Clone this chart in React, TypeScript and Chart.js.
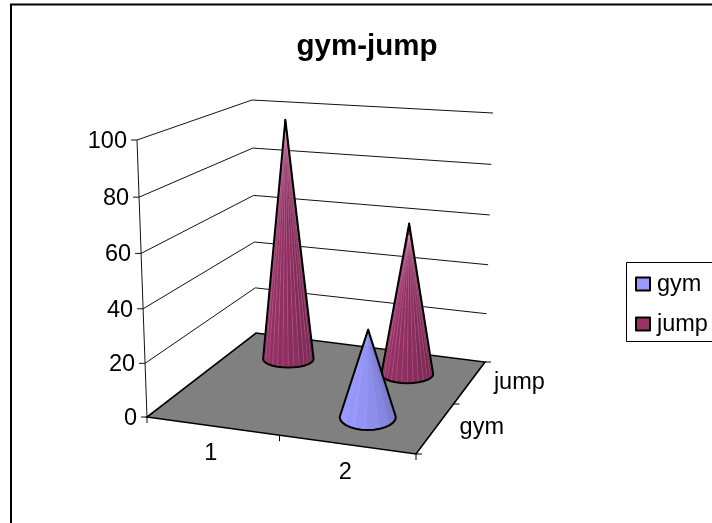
import React, { useEffect, useRef } from "react";
import { Chart, registerables } from "chart.js";

Chart.register(...registerables);

const chartTitle = "gym-jump";
const categories = ["1", "2"];
const gymValues = [0, 33];
const jumpValues = [97, 60];
const axisTicks = { min: 0, max: 100, step: 20 };

const WIDTH = 712;
const HEIGHT = 523;
const FONT = '"Liberation Sans", Arial, sans-serif';

type Pt = { x: number; y: number };

// Corners of the projected box: front-left, front-right, back-right, back-left.
const floorQuad: Pt[] = [
  { x: 147, y: 417 },
  { x: 416, y: 454 },
  { x: 485, y: 362 },
  { x: 256, y: 333 },
];
const ceilingQuad: Pt[] = [
  { x: 137, y: 140 },
  { x: 421, y: 158 },
  { x: 493, y: 113 },
  { x: 252, y: 100 },
];

// Maps the unit square onto a quadrilateral.
function homography(q: Pt[]) {
  const [p0, p1, p2, p3] = q;
  const dx1 = p1.x - p2.x, dx2 = p3.x - p2.x, sx = p0.x - p1.x + p2.x - p3.x;
  const dy1 = p1.y - p2.y, dy2 = p3.y - p2.y, sy = p0.y - p1.y + p2.y - p3.y;
  const den = dx1 * dy2 - dx2 * dy1;
  const g = (sx * dy2 - dx2 * sy) / den;
  const h = (dx1 * sy - sx * dy1) / den;
  const a = p1.x - p0.x + g * p1.x, b = p3.x - p0.x + h * p3.x;
  const d = p1.y - p0.y + g * p1.y, e = p3.y - p0.y + h * p3.y;
  return (u: number, v: number): Pt => {
    const w = g * u + h * v + 1;
    return { x: (a * u + b * v + p0.x) / w, y: (d * u + e * v + p0.y) / w };
  };
}
const onFloor = homography(floorQuad);
const onCeiling = homography(ceilingQuad);

// Foreshortening of the height axis towards the floor.
const ease = (f: number) => f / (1 + 0.04 * (1 - f));

function inBox(u: number, v: number, f: number): Pt {
  const a = onFloor(u, v), b = onCeiling(u, v), t = ease(f);
  return { x: a.x + (b.x - a.x) * t, y: a.y + (b.y - a.y) * t };
}

function segment(ctx: CanvasRenderingContext2D, a: Pt, b: Pt) {
  ctx.beginPath();
  ctx.moveTo(a.x, a.y);
  ctx.lineTo(b.x, b.y);
  ctx.stroke();
}

function mix(rgb: number[], k: number) {
  return `rgb(${rgb.map((c) => Math.round(c * k)).join(",")})`;
}

function drawCone(
  ctx: CanvasRenderingContext2D,
  u: number,
  v: number,
  f: number,
  rgb: number[],
  seams: boolean
) {
  const base = onFloor(u, v);
  base.x -= 2;
  base.y += v * 4 - 3;
  const apex = inBox(u, v, f);
  apex.x -= 2;
  const span = onFloor(u + 0.25, v).x - onFloor(u - 0.25, v).x;
  const rx = span * 0.215;
  const ry = rx * (0.52 - 0.12 * v * 2);
  const steps = 14;
  const arc: Pt[] = [];
  for (let i = 0; i <= steps; i++) {
    const t = Math.PI - (Math.PI * i) / steps;
    arc.push({ x: base.x + rx * Math.cos(t), y: base.y + ry * Math.sin(t) });
  }
  // Facets, left to right, darkening away from the light.
  arc.slice(0, -1).forEach((p, i) => {
    const q = arc[i + 1];
    const t = i / (steps - 1);
    const k = 1.02 - 0.24 * t * t - (i % 2) * 0.025;
    ctx.fillStyle = ctx.strokeStyle = mix(rgb, k);
    ctx.lineWidth = 0.5;
    ctx.beginPath();
    ctx.moveTo(apex.x, apex.y);
    ctx.lineTo(p.x, p.y);
    ctx.lineTo(q.x, q.y);
    ctx.closePath();
    ctx.fill();
    ctx.stroke();
  });
  if (seams) {
    ctx.strokeStyle = "rgba(222,170,200,0.38)";
    ctx.lineWidth = 0.6;
    arc.slice(1, -1).forEach((p) => segment(ctx, { x: apex.x, y: apex.y + 12 }, p));
  }
  // Silhouette.
  ctx.strokeStyle = "#000";
  ctx.lineWidth = 2;
  ctx.lineJoin = "round";
  ctx.beginPath();
  ctx.moveTo(apex.x, apex.y);
  arc.forEach((p) => ctx.lineTo(p.x, p.y));
  ctx.closePath();
  ctx.stroke();
}

const boxScene = {
  id: "boxScene",
  beforeDatasetsDraw(chart: any) {
    const { ctx, scales, chartArea } = chart;
    const xs = scales.x, ys = scales.y;
    const frac = (value: number) =>
      (chartArea.bottom - ys.getPixelForValue(value)) / (chartArea.bottom - chartArea.top);
    const uOf = (index: number) => (xs.getPixelForValue(index) - chartArea.left) / chartArea.width;
    const nCat = categories.length;
    const nSer = chart.data.datasets.length;
    ctx.save();

    // Chart frame.
    ctx.strokeStyle = "#000";
    ctx.lineWidth = 2;
    ctx.beginPath();
    ctx.moveTo(11, HEIGHT);
    ctx.lineTo(11, 4.5);
    ctx.lineTo(WIDTH, 4.5);
    ctx.stroke();

    // Title.
    ctx.fillStyle = "#000";
    ctx.textAlign = "center";
    ctx.textBaseline = "alphabetic";
    ctx.font = `bold 29.5px ${FONT}`;
    ctx.fillText(chartTitle, 367, 55);

    // Wall gridlines, value tick marks and value labels.
    ctx.font = `23.5px ${FONT}`;
    ys.ticks.forEach((tick: any) => {
      const f = frac(tick.value);
      const a = inBox(0, 0, f), b = inBox(0, 1, f), c = inBox(1, 1, f);
      ctx.strokeStyle = "#111";
      ctx.lineWidth = 1;
      if (tick.value > 0) {
        segment(ctx, a, b);
        segment(ctx, b, c);
      }
      segment(ctx, a, { x: a.x - 6, y: a.y });
      ctx.fillStyle = "#000";
      ctx.textAlign = "right";
      ctx.fillText(tick.label, a.x - 10, a.y + 8);
    });
    segment(ctx, inBox(0, 0, 0), inBox(0, 0, 1));

    // Floor.
    ctx.fillStyle = "#808080";
    ctx.strokeStyle = "#000";
    ctx.lineWidth = 1.6;
    ctx.beginPath();
    floorQuad.forEach((p, i) => (i ? ctx.lineTo(p.x, p.y) : ctx.moveTo(p.x, p.y)));
    ctx.closePath();
    ctx.fill();
    ctx.stroke();

    // Floor tick marks, along the categories and along the series.
    ctx.lineWidth = 1;
    for (let i = 0; i <= nCat; i++) {
      const p = onFloor(i / nCat, 0);
      segment(ctx, p, { x: p.x, y: p.y + 6 });
    }
    for (let i = 0; i <= nSer; i++) {
      const p = onFloor(1, i / nSer);
      segment(ctx, p, { x: p.x + 6, y: p.y });
    }

    // Category and series labels.
    ctx.fillStyle = "#000";
    ctx.textAlign = "center";
    categories.forEach((label, i) => {
      const p = onFloor(uOf(i), 0);
      ctx.fillText(label, p.x - 2, p.y + 34);
    });
    ctx.textAlign = "left";
    chart.data.datasets.forEach((ds: any, i: number) => {
      const p = onFloor(1, (i + 0.5) / nSer);
      ctx.fillText(ds.label, p.x + 24, p.y + 6.5);
    });

    // Cones, back row first.
    for (let s = nSer - 1; s >= 0; s--) {
      const ds = chart.data.datasets[s];
      ds.data.forEach((value: number, i: number) => {
        if (value > 0) {
          drawCone(ctx, uOf(i), (s + 0.5) / nSer, frac(value), ds.shadeRgb, ds.seamed);
        }
      });
    }

    // Legend.
    ctx.strokeStyle = "#000";
    ctx.lineWidth = 1;
    ctx.strokeRect(626.5, 262.5, WIDTH, 79);
    chart.data.datasets.forEach((ds: any, i: number) => {
      const y = 277.5 + i * 40;
      ctx.fillStyle = ds.backgroundColor;
      ctx.lineWidth = 2;
      ctx.fillRect(636, y, 14, 13);
      ctx.strokeRect(636, y, 14, 13);
      ctx.fillStyle = "#000";
      ctx.textAlign = "left";
      ctx.fillText(ds.label, 657, y + 13);
    });
    ctx.restore();
    return false;
  },
};

export default function App() {
  const canvasRef = useRef<HTMLCanvasElement>(null);
  useEffect(() => {
    const chart = new Chart(canvasRef.current as HTMLCanvasElement, {
      type: "bar",
      data: {
        labels: categories,
        datasets: [
          { label: "gym", data: gymValues, backgroundColor: "#9999ff", shadeRgb: [153, 153, 255], seamed: false },
          { label: "jump", data: jumpValues, backgroundColor: "#993366", shadeRgb: [150, 48, 100], seamed: true },
        ] as any,
      },
      options: {
        responsive: false,
        animation: false,
        layout: { padding: { left: 147, right: WIDTH - 416, top: 140, bottom: HEIGHT - 417 } },
        plugins: { legend: { display: false }, title: { display: false }, tooltip: { enabled: false } },
        scales: {
          x: { display: false },
          y: { display: false, min: axisTicks.min, max: axisTicks.max, ticks: { stepSize: axisTicks.step } },
        },
      },
      plugins: [boxScene],
    });
    return () => chart.destroy();
  }, []);
  return (
    <canvas
      ref={canvasRef}
      width={WIDTH}
      height={HEIGHT}
      style={{ position: "fixed", left: 0, top: 0, display: "block", background: "#fff" }}
    />
  );
}
